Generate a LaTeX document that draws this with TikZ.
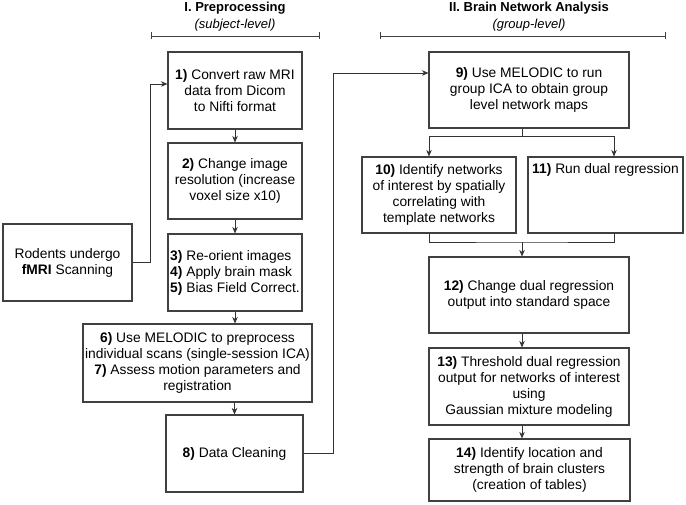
\documentclass[tikz,border=0pt]{standalone}
\usepackage{fontspec}
\setmainfont{Liberation Sans}
\usetikzlibrary{arrows.meta}

\begin{document}
\begin{tikzpicture}[
    x=1pt, y=-1pt,
    box/.style={draw=black!75, line width=1.1pt, inner sep=1.5pt, align=center,
        font=\fontsize{13.8}{16}\selectfont},
    link/.style={draw=black!80, line width=0.8pt},
    arr/.style={link, -{Stealth[length=6.5pt,width=5.5pt,inset=2pt]}},
    head/.style={align=center, inner sep=0pt, font=\fontsize{13}{17}\selectfont},
    span/.style={draw=black!75, line width=0.8pt, {Bar[width=7pt]}-{Bar[width=7pt]}}
  ]

    \useasboundingbox (0,0) rectangle (686,505);

    \node[head] (prehead) at (235,16.5) {{\bfseries I. Preprocessing}\\{\itshape (subject-level)}};
    \node[head] (grphead) at (529,16.5) {{\bfseries II. Brain Network Analysis}\\{\itshape (group-level)}};
    \draw[span] (151,36) -- (320,36);
    \draw[span] (380,36) -- (666,36);

    \node[box, minimum width=134, minimum height=77] (conv) at (235,90.5)
        {\textbf{1)} Convert raw MRI\\data from Dicom\\to Nifti format};
    \node[box, minimum width=134, minimum height=76] (reso) at (235,181)
        {\textbf{2)} Change image\\resolution (increase\\voxel size x10)};
    \node[box, minimum width=134, minimum height=77, align=left] (orient) at (235,272.5)
        {\textbf{3)} Re-orient images\\\textbf{4)} Apply brain mask\\\textbf{5)} Bias Field Correct.};
    \node[box, minimum width=229, minimum height=78] (melpre) at (197.5,363)
        {\textbf{6)} Use MELODIC to preprocess\\individual scans (single-session ICA)\\\textbf{7)} Assess motion parameters and\\registration};
    \node[box, minimum width=137, minimum height=77] (clean) at (234.5,453.5)
        {\textbf{8)} Data Cleaning};
    \node[box, minimum width=129, minimum height=77] (rodent) at (67.5,262.5)
        {Rodents undergo\\\textbf{fMRI} Scanning};

    \node[box, minimum width=200, minimum height=76] (melgrp) at (529,90)
        {\textbf{9)} Use MELODIC to run\\group ICA to obtain group\\level network maps};
    \node[box, minimum width=154, minimum height=76] (ident) at (439,195)
        {\textbf{10)} Identify networks\\of interest by spatially\\correlating with\\template networks};
    \node[box, minimum width=155, minimum height=76] (dualreg) at (605.5,195) {};
    \node[box, draw=none, anchor=north] (dualtxt) at ([yshift=-5pt]dualreg.north)
        {\textbf{11)} Run dual regression};
    \node[box, minimum width=200, minimum height=76] (stdspace) at (529,295)
        {\textbf{12)} Change dual regression\\output into standard space};
    \node[box, minimum width=200, minimum height=77] (thresh) at (529,386.5)
        {\textbf{13)} Threshold dual regression\\output for networks of interest\\using\\Gaussian mixture modeling};
    \node[box, minimum width=201, minimum height=62] (clusters) at (529.5,470)
        {\textbf{14)} Identify location and\\strength of brain clusters\\(creation of tables)};

    \coordinate (br) at (522,136);
    \coordinate (mg) at (522,242);
    \coordinate (ax) at (522,0);
    \coordinate (lft) at (429,0);
    \coordinate (rgt) at (614,0);

    \draw[arr] (rodent.east) -- ++(18,0) |- ([yshift=6.5pt]conv.west);
    \draw[arr] (conv) -- (reso);
    \draw[arr] (reso) -- (orient);
    \draw[arr] (orient.south) -- (orient.south |- melpre.north);
    \draw[arr] (melpre.south -| clean.north) -- (clean.north);
    \draw[arr] (clean.east) -- ++(30,0) |- ([yshift=17pt]melgrp.west);

    \draw[link] (melgrp.south -| br) -- (br);
    \draw[arr] (br) -| (ident.north -| lft);
    \draw[arr] (br) -| (dualreg.north -| rgt);
    \draw[link] (ident.south -| lft) |- (mg) -| (dualreg.south -| rgt);
    \draw[arr] (mg) -- (stdspace.north -| mg);
    \draw[arr] (stdspace.south -| ax) -- (thresh.north -| ax);
    \draw[arr] (thresh.south -| ax) -- (clusters.north -| ax);

\end{tikzpicture}
\end{document}
